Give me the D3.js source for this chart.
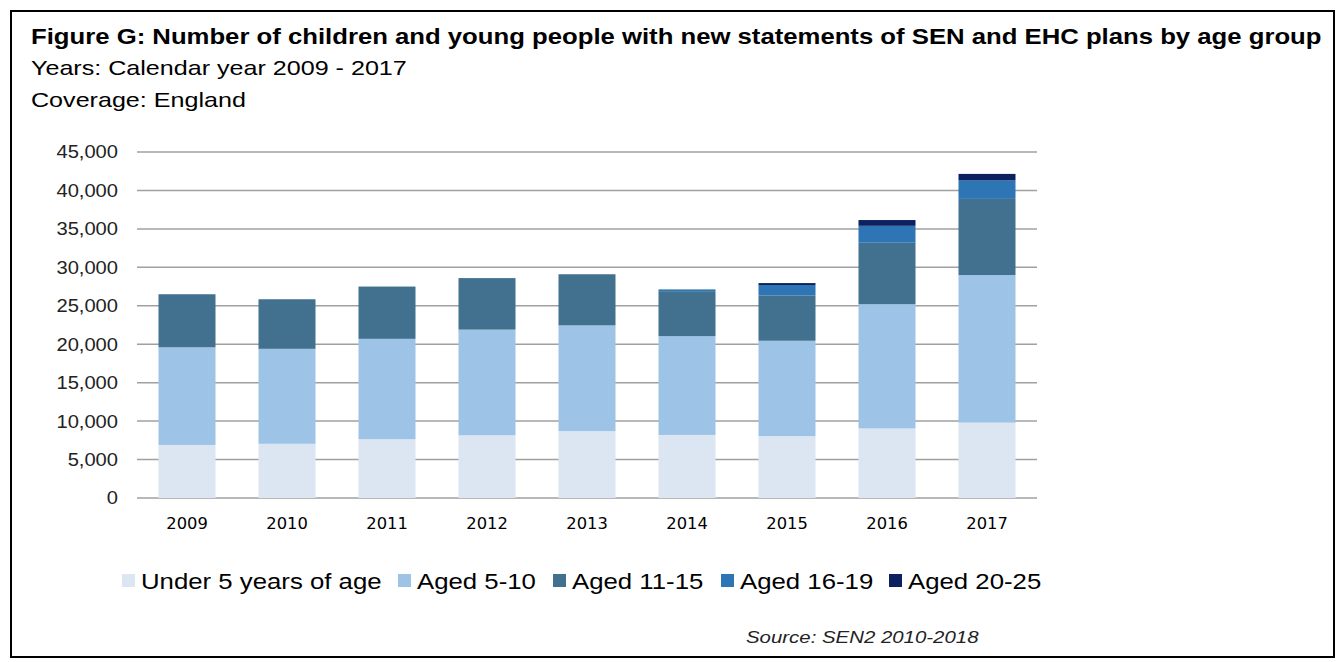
<!DOCTYPE html>
<html>
<head>
<meta charset="utf-8">
<script src="https://cdn.jsdelivr.net/npm/d3@7"></script>
<style>
  html, body { margin: 0; padding: 0; background: #fff; }
  svg { display: block; }
</style>
</head>
<body>
<svg id="chart" width="1344" height="662"></svg>
<script>
// Calendar years on the x axis
const years = ["2009", "2010", "2011", "2012", "2013", "2014", "2015", "2016", "2017"];

// New statements of SEN and EHC plans, by age group
const under5     = [6900, 7050, 7650, 8150, 8700, 8200, 8050, 9050, 9800];
const aged5to10  = [12700, 12350, 13050, 13750, 13750, 12850, 12400, 16150, 19200];
const aged11to15 = [6900, 6450, 6800, 6700, 6650, 5850, 5900, 8000, 9900];
const aged16to19 = [0, 0, 0, 0, 0, 230, 1350, 2200, 2400];
const aged20to25 = [0, 0, 0, 0, 0, 0, 250, 750, 850];

const seriesNames = ["Under 5 years of age", "Aged 5-10", "Aged 11-15", "Aged 16-19", "Aged 20-25"];
const seriesValues = [under5, aged5to10, aged11to15, aged16to19, aged20to25];
const seriesColors = ["#dce6f2", "#9dc3e6", "#41718f", "#2e75b6", "#0b2160"];

const yTicks = [0, 5000, 10000, 15000, 20000, 25000, 30000, 35000, 40000, 45000];

const svg = d3.select("#chart");

// Widen text horizontally by a factor, keeping its anchor in place
function widen(sel, factor) {
  sel.each(function () {
    const w = this.getComputedTextLength();
    d3.select(this)
      .attr("textLength", w * factor)
      .attr("lengthAdjust", "spacingAndGlyphs");
  });
  return sel;
}

// Outer frame
svg.append("rect")
  .attr("x", 11).attr("y", 11).attr("width", 1323).attr("height", 646)
  .attr("fill", "#fff").attr("stroke", "#000").attr("stroke-width", 2);

// Headings
const font = "Liberation Sans, Arial, sans-serif";
const heads = svg.append("g").attr("font-family", font).attr("fill", "#000");
heads.append("text").attr("x", 31).attr("y", 44)
  .attr("font-size", 21.5).attr("font-weight", "bold")
  .text("Figure G: Number of children and young people with new statements of SEN and EHC plans by age group");
heads.append("text").attr("x", 31).attr("y", 75)
  .attr("font-size", 21)
  .text("Years: Calendar year 2009 - 2017");
heads.append("text").attr("x", 31).attr("y", 107)
  .attr("font-size", 21)
  .text("Coverage: England");
widen(heads.selectAll("text"), 1.195);

// Plot area
const plotLeft = 137, plotRight = 1037, plotTop = 152, plotBottom = 498;

const x = d3.scaleBand().domain(years).range([plotLeft, plotRight]).paddingInner(0.43).paddingOuter(0.215);
const y = d3.scaleLinear().domain([0, 45000]).range([plotBottom, plotTop]);

// Gridlines
svg.append("g")
  .selectAll("line")
  .data(yTicks)
  .join("line")
  .attr("x1", plotLeft).attr("x2", plotRight)
  .attr("y1", d => y(d)).attr("y2", d => y(d))
  .attr("stroke", "#a0a0a0").attr("stroke-width", 1.5);

// Y axis labels
const yAxis = d3.axisLeft(y).tickValues(yTicks).tickSize(0).tickPadding(0)
  .tickFormat(d3.format(","));
const yg = svg.append("g").attr("transform", `translate(${plotLeft - 19},0)`).call(yAxis);
yg.select(".domain").remove();
yg.selectAll("text")
  .attr("font-family", font).attr("font-size", 17.5).attr("fill", "#222").attr("dy", "0.34em");
widen(yg.selectAll("text"), 1.15);

// Stacked bars
const rows = years.map((yr, i) => {
  const r = { year: yr };
  seriesNames.forEach((n, j) => { r[n] = seriesValues[j][i]; });
  return r;
});
const stacked = d3.stack().keys(seriesNames)(rows);

svg.append("g")
  .selectAll("g")
  .data(stacked)
  .join("g")
  .attr("fill", (d, i) => seriesColors[i])
  .selectAll("rect")
  .data(d => d.filter(p => p[1] - p[0] > 0))
  .join("rect")
  .attr("x", d => x(d.data.year))
  .attr("width", x.bandwidth())
  .attr("y", d => y(d[1]))
  .attr("height", d => y(d[0]) - y(d[1]));

// X axis labels
const xAxis = d3.axisBottom(x).tickSize(0).tickPadding(0);
const xg = svg.append("g").attr("transform", `translate(0,${plotBottom + 20})`).call(xAxis);
xg.select(".domain").remove();
xg.selectAll("text")
  .attr("font-family", "DejaVu Sans Condensed, Liberation Sans Narrow, sans-serif")
  .attr("font-size", 15.5).attr("fill", "#000").attr("dy", "0.71em");
widen(xg.selectAll("text"), 1.17);

// Legend
const legendX = [122, 398, 553, 721, 889];
const legend = svg.append("g").attr("font-family", font).attr("font-size", 22.5);
seriesNames.forEach((n, i) => {
  legend.append("rect")
    .attr("x", legendX[i]).attr("y", 574).attr("width", 13).attr("height", 13)
    .attr("fill", seriesColors[i]);
  legend.append("text")
    .attr("x", legendX[i] + 19).attr("y", 589)
    .attr("fill", "#000").text(n);
});
widen(legend.selectAll("text"), 1.145);

// Source note
const src = svg.append("text").attr("x", 746).attr("y", 643)
  .attr("font-family", font).attr("font-size", 17).attr("font-style", "italic")
  .attr("fill", "#222").text("Source: SEN2 2010-2018");
widen(src, 1.2);
</script>
</body>
</html>
